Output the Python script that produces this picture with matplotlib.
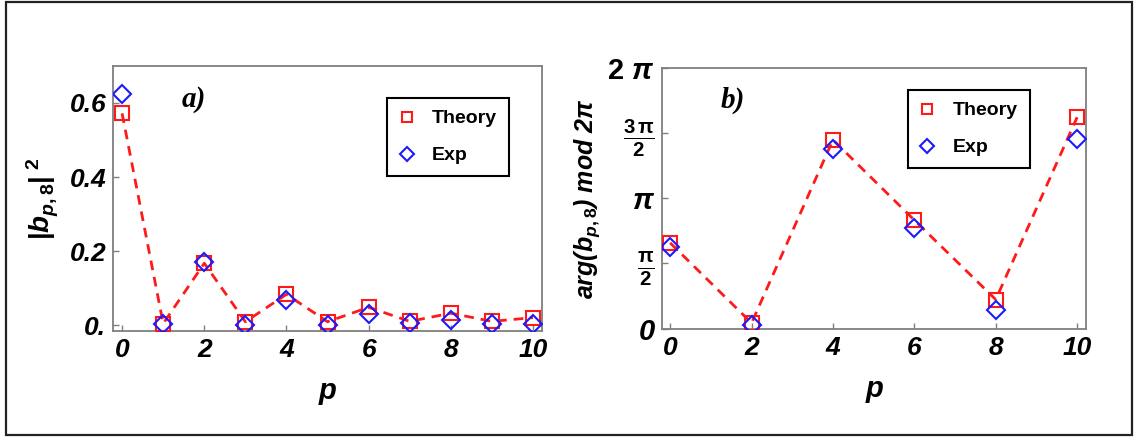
import numpy as np
import matplotlib
matplotlib.use("Agg")
import matplotlib.pyplot as plt
from matplotlib.patches import Rectangle

# |b_{p,8}|^2 populations, p = 0..10
p_a = [0, 1, 2, 3, 4, 5, 6, 7, 8, 9, 10]
theory_a = [0.572, 0.004, 0.167, 0.009, 0.083, 0.009, 0.048, 0.010, 0.032, 0.010, 0.020]
exp_a = [0.623, 0.004, 0.171, 0.001, 0.069, 0.001, 0.030, 0.006, 0.014, 0.003, 0.004]

# arg(b_{p,8}) mod 2pi, in units of pi, even p only
p_b = [0, 2, 4, 6, 8, 10]
theory_b = [0.658, 0.043, 1.449, 0.833, 0.223, 1.623]
exp_b = [0.628, 0.025, 1.379, 0.769, 0.146, 1.454]

ticks_a_x = [0, 2, 4, 6, 8, 10]
ticks_a_y = [0.0, 0.2, 0.4, 0.6]
ticklabels_a_y = ["0.", "0.2", "0.4", "0.6"]
ticks_b_y = [0, 0.5, 1.0, 1.5, 2.0]
ticklabels_b_y = ["0", r"$\mathbf{\frac{\pi}{2}}$", r"$\pi$",
                  r"$\mathbf{\frac{3\,\pi}{2}}$", r"$2\ \pi$"]

plt.rcParams["font.family"] = ["Liberation Sans", "DejaVu Sans"]
plt.rcParams["mathtext.fontset"] = "custom"
plt.rcParams["mathtext.rm"] = "Liberation Sans:bold"
plt.rcParams["mathtext.it"] = "Liberation Sans:bold:italic"
plt.rcParams["mathtext.bf"] = "Liberation Sans:bold"
plt.rcParams["mathtext.sf"] = "Liberation Sans:bold"

RED = "#ff1a1a"
BLUE = "#1a1aff"
FRAME = "#7f7f7f"

fig = plt.figure(figsize=(11.35, 4.37), dpi=100)
fig.patches.append(Rectangle((0.005, 0.004), 0.992, 0.991, transform=fig.transFigure,
                             fill=False, edgecolor="#222222", linewidth=1.6))

ax_a = fig.add_axes([0.0996, 0.2426, 0.378, 0.6064])
ax_b = fig.add_axes([0.5833, 0.2471, 0.3736, 0.597])


def style_axes(ax):
    for sp in ax.spines.values():
        sp.set_color(FRAME)
        sp.set_linewidth(1.3)
    ax.tick_params(direction="in", length=4, width=1, color=FRAME,
                   labelsize=19, pad=5)
    for lab in ax.get_xticklabels() + ax.get_yticklabels():
        lab.set_fontweight("bold")
        lab.set_fontstyle("italic")


def draw_series(ax, x, th, ex):
    ax.plot(x, th, ls=(0, (3.5, 2.5)), color=RED, lw=2.0, zorder=2)
    ax.plot(x, th, ls="none", marker="s", ms=9.5, mfc="none", mec=RED,
            mew=1.5, label="Theory", zorder=3)
    ax.plot(x, ex, ls="none", marker="D", ms=9.5, mfc="none", mec=BLUE,
            mew=1.5, label="Exp", zorder=4)


def add_legend(ax, anchor):
    leg = ax.legend(loc="upper left", bbox_to_anchor=anchor, markerscale=0.75,
                    fancybox=False, edgecolor="black", framealpha=1,
                    prop={"weight": "bold", "size": 14}, handlelength=0.8,
                    handletextpad=0.9, labelspacing=1.0, borderpad=0.6,
                    borderaxespad=0)
    leg.get_frame().set_linewidth(1.5)


# panel a: populations
draw_series(ax_a, p_a, theory_a, exp_a)
ax_a.set_xlim(-0.22, 10.22)
ax_a.set_ylim(-0.016, 0.70)
ax_a.set_xticks(ticks_a_x)
ax_a.set_yticks(ticks_a_y)
ax_a.set_yticklabels(ticklabels_a_y)
style_axes(ax_a)
ax_a.set_xlabel("p", fontsize=21, fontweight="bold", fontstyle="italic", labelpad=11)
ax_a.set_ylabel(r"$|b_{p,8}|^{\ 2}$", fontsize=20, labelpad=6)
ax_a.text(0.16, 0.875, "a)", transform=ax_a.transAxes, fontsize=21,
          family="Liberation Serif", fontweight="bold", fontstyle="italic",
          va="center", ha="left")
add_legend(ax_a, (0.639, 0.879))

# panel b: phases
draw_series(ax_b, p_b, np.array(theory_b) * np.pi, np.array(exp_b) * np.pi)
ax_b.set_xlim(-0.2, 10.22)
ax_b.set_ylim(-0.01, 2 * np.pi)
ax_b.set_xticks(p_b)
ax_b.set_yticks(np.array(ticks_b_y) * np.pi)
ax_b.set_yticklabels(ticklabels_b_y)
style_axes(ax_b)
for lab in ax_b.get_yticklabels():
    lab.set_fontsize(21)
ax_b.set_xlabel("p", fontsize=21, fontweight="bold", fontstyle="italic", labelpad=11)
ax_b.set_ylabel(r"arg($b_{p,8}$) mod 2$\pi$", fontsize=18, fontweight="bold",
                fontstyle="italic", labelpad=4)
ax_b.text(0.137, 0.877, "b)", transform=ax_b.transAxes, fontsize=21,
          family="Liberation Serif", fontweight="bold", fontstyle="italic",
          va="center", ha="left")
add_legend(ax_b, (0.580, 0.916))

fig.savefig("out.png", dpi=100)
